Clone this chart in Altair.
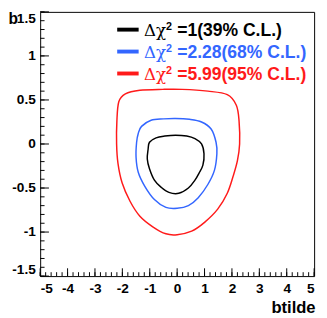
import altair as alt
import pandas as pd

# ---- contour data (btilde, b) ----
black_bt = [-1.06, -1.01, -0.77, -0.45, -0.06, 0.35, 0.65, 0.89, 0.98, 0.94, 0.80, 0.65, 0.41, 0.06, -0.30, -0.59, -0.83, -1.01, -1.09]
black_b = [-0.06, 0.02, 0.07, 0.09, 0.10, 0.09, 0.06, 0.00, -0.11, -0.24, -0.33, -0.41, -0.50, -0.56, -0.55, -0.49, -0.41, -0.28, -0.17]

blue_bt = [-1.48, -1.42, -1.30, -0.95, -0.50, -0.06, 0.45, 0.89, 1.24, 1.42, 1.45, 1.36, 1.12, 0.77, 0.41, 0.00, -0.41, -0.83, -1.18, -1.42, -1.50]
blue_b = [0.02, 0.12, 0.20, 0.27, 0.285, 0.29, 0.28, 0.25, 0.17, 0.02, -0.11, -0.30, -0.46, -0.61, -0.70, -0.73, -0.72, -0.63, -0.48, -0.32, -0.15]

red_bt = [-2.21, -2.20, -2.13, -1.89, -1.36, -0.53, 0.18, 1.12, 1.83, 2.16, 2.26, 2.28, 2.20, 2.04, 1.83, 1.48, 1.00, 0.53, 0.00, -0.41, -0.89, -1.36, -1.72, -2.01, -2.16]
red_b = [0.00, 0.26, 0.48, 0.57, 0.61, 0.62, 0.62, 0.60, 0.56, 0.44, 0.26, 0.00, -0.19, -0.37, -0.56, -0.74, -0.89, -0.99, -1.03, -1.02, -0.94, -0.82, -0.65, -0.44, -0.22]

levels = ["1", "2.28", "5.99"]
cls = ["39%", "68%", "95%"]
colors = ["#000000", "#3366ff", "#ff1a1a"]

x_ticks = [-5, -4, -3, -2, -1, 0, 1, 2, 3, 4, 5]
y_ticks = [-1.5, -1, -0.5, 0, 0.5, 1, 1.5]
x_minor = [round(-5 + 0.2 * i, 2) for i in range(51)]
y_minor = [round(-1.5 + 0.1 * i, 2) for i in range(31)]

W, H = 281, 271
FONT = "Liberation Sans"

rows = []
for lev, bts, bs in zip(levels, [black_bt, blue_bt, red_bt], [black_b, blue_b, red_b]):
    for i, (a, c) in enumerate(zip(bts, bs)):
        rows.append({"btilde": a, "b": c, "idx": i, "level": lev})
df = pd.DataFrame(rows)

xscale = alt.Scale(domain=[-5, 5], nice=False, zero=False)
yscale = alt.Scale(domain=[-1.5, 1.5], nice=False, zero=False)

xaxis = alt.Axis(values=x_ticks, ticks=False, tickSize=0, domain=False, grid=False,
                 labelOverlap=False, labelBound=False,
                 labelFont=FONT, labelFontSize=14, labelFontWeight="bold",
                 labelColor="black", labelPadding=6, labelExpr="'' + datum.value",
                 title="btilde", titleFont=FONT, titleFontSize=17, titleFontWeight="bold",
                 titleColor="black", titleAnchor="end", titleAlign="right",
                 titleBaseline="alphabetic", titleX=W + 1, titleY=37)
yaxis = alt.Axis(values=y_ticks, ticks=False, tickSize=0, domain=False, grid=False,
                 labelOverlap=False,
                 labelFont=FONT, labelFontSize=14, labelFontWeight="bold",
                 labelColor="black", labelPadding=5, labelFlush=True,
                 labelExpr="'' + datum.value",
                 title="b", titleFont=FONT, titleFontSize=16, titleFontWeight="bold",
                 titleColor="black", titleAngle=0, titleAlign="left",
                 titleBaseline="alphabetic", titleX=-33, titleY=12)

contours = alt.Chart(df).mark_line(interpolate="cardinal-closed", strokeWidth=1.5).encode(
    x=alt.X("btilde:Q", scale=xscale, axis=xaxis, title="btilde"),
    y=alt.Y("b:Q", scale=yscale, axis=yaxis, title="b"),
    color=alt.Color("level:N", scale=alt.Scale(domain=levels, range=colors), legend=None),
    detail="level:N",
    order="idx:Q",
)

def xt(vals, length):
    d = pd.DataFrame({"btilde": vals})
    return alt.Chart(d).mark_rule(color="black", strokeWidth=1).encode(
        x=alt.X("btilde:Q", scale=xscale, axis=xaxis, title="btilde"),
        y=alt.value(H), y2=alt.value(H - length))

def yt(vals, length):
    d = pd.DataFrame({"b": vals})
    return alt.Chart(d).mark_rule(color="black", strokeWidth=1).encode(
        y=alt.Y("b:Q", scale=yscale, axis=yaxis, title="b"),
        x=alt.value(0), x2=alt.value(length))

layers = [contours, xt(x_minor, 4), xt(x_ticks, 8), yt(y_minor, 4.5), yt(y_ticks, 9)]

one = pd.DataFrame({"k": [0]})
for i, (lev, cl, col) in enumerate(zip(levels, cls, colors)):
    base_y = 24.7 + 22.5 * i
    layers.append(alt.Chart(one).mark_rule(color=col, strokeWidth=4).encode(
        x=alt.value(79), x2=alt.value(101), y=alt.value(base_y - 6.5)))
    layers.append(alt.Chart(one).mark_text(
        text="\u0394\u03c7", font="DejaVu Serif", fontSize=17, color=col,
        align="left", baseline="alphabetic").encode(x=alt.value(106.5), y=alt.value(base_y)))
    layers.append(alt.Chart(one).mark_text(
        text="2", font=FONT, fontSize=11, fontWeight="bold", color=col,
        align="left", baseline="alphabetic").encode(x=alt.value(129), y=alt.value(base_y - 6)))
    layers.append(alt.Chart(one).mark_text(
        text="=" + lev + "(" + cl + " C.L.)", font=FONT, fontSize=18, fontWeight="bold", color=col,
        align="left", baseline="alphabetic").encode(x=alt.value(140.5), y=alt.value(base_y)))

chart = alt.layer(*layers).properties(
    width=W, height=H,
    autosize=alt.AutoSizeParams(type="none"),
    padding={"left": 33, "top": 0, "right": 5, "bottom": 39},
    background="white",
).configure_view(stroke="black", strokeWidth=1)

chart.save("out.html", embed_options={"renderer": "svg", "actions": False})
